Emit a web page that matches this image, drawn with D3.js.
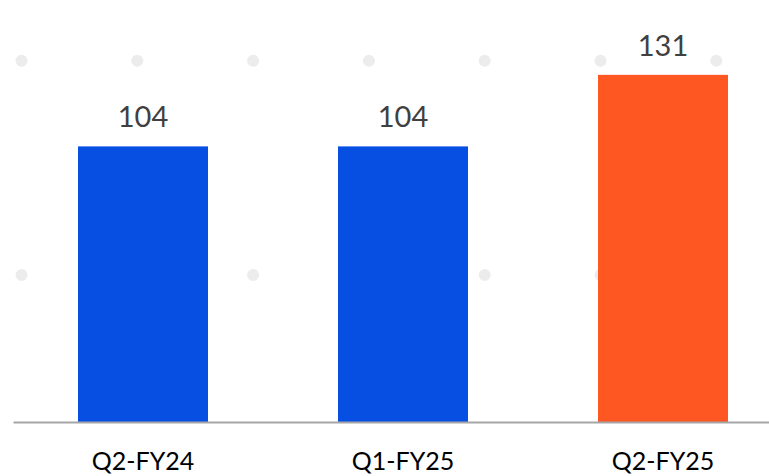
<!DOCTYPE html>
<html>
<head>
<meta charset="utf-8">
<script src="https://cdn.jsdelivr.net/npm/d3@7"></script>
<style>
  html, body { margin: 0; padding: 0; background: #fff; }
  svg { display: block; }
</style>
</head>
<body>
<svg id="chart" width="769" height="476"></svg>
<script>
const categories = ["Q2-FY24", "Q1-FY25", "Q2-FY25"];
const values = [104, 104, 131];
const barColors = ["#074ee3", "#074ee3", "#ff5722"];
const gridValues = [55.5, 136.3];

const W = 769, H = 476;
const svg = d3.select("#chart");

const x = d3.scaleBand()
  .domain(categories)
  .range([13, 793])
  .paddingInner(0.5)
  .paddingOuter(0.25);

const y = d3.scaleLinear()
  .domain([0, 160])
  .range([422, -2]);

// dotted gridlines
svg.append("g")
  .selectAll("line")
  .data(gridValues)
  .join("line")
  .attr("x1", 21.5)
  .attr("x2", W)
  .attr("y1", d => y(d))
  .attr("y2", d => y(d))
  .attr("stroke", "#ececec")
  .attr("stroke-width", 12)
  .attr("stroke-linecap", "round")
  .attr("stroke-dasharray", "0,115.8");

// bars
svg.append("g")
  .selectAll("rect")
  .data(values)
  .join("rect")
  .attr("x", (d, i) => x(categories[i]))
  .attr("width", x.bandwidth())
  .attr("y", d => y(d))
  .attr("height", d => y(0) - y(d))
  .attr("fill", (d, i) => barColors[i]);

// value labels
svg.append("g")
  .selectAll("text")
  .data(values)
  .join("text")
  .attr("x", (d, i) => x(categories[i]) + x.bandwidth() / 2)
  .attr("y", d => y(d) - 19)
  .attr("text-anchor", "middle")
  .attr("font-family", "Lato, 'Open Sans', sans-serif")
  .attr("font-size", 29)
  .attr("fill", "#404040")
  .text(d => d);

// x axis
const axis = svg.append("g")
  .attr("transform", `translate(0,${y(0)})`)
  .call(d3.axisBottom(x).tickSize(0).tickPadding(30));
axis.select(".domain")
  .attr("stroke", "#a6a6a6")
  .attr("stroke-width", 2);
axis.selectAll("text")
  .attr("font-family", "Lato, 'Open Sans', sans-serif")
  .attr("font-size", 25)
  .attr("fill", "#000");
</script>
</body>
</html>
